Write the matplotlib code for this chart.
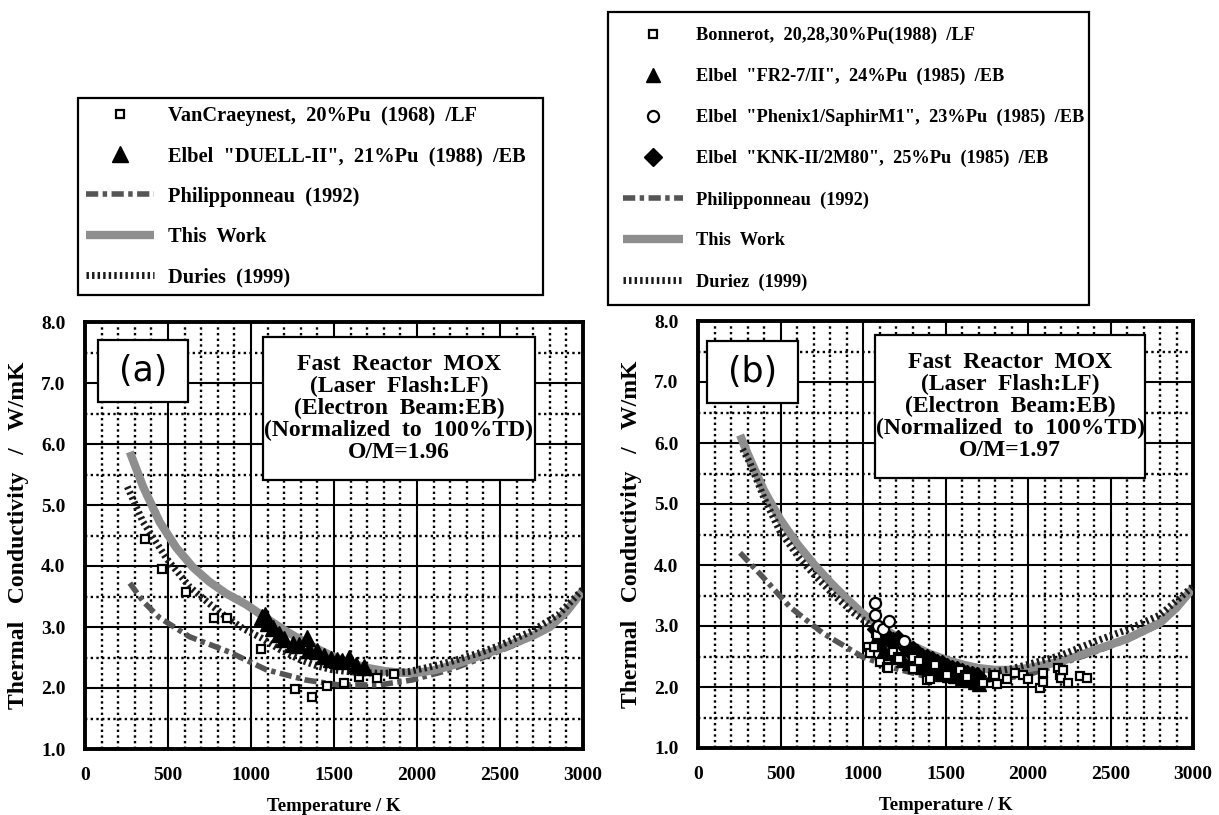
import matplotlib
matplotlib.use('Agg')
import matplotlib.pyplot as plt
from matplotlib.patches import Rectangle
from matplotlib.ticker import MultipleLocator

plt.rcParams['font.family'] = ['Liberation Serif', 'DejaVu Serif']
plt.rcParams['font.weight'] = 'bold'
plt.rcParams['axes.labelweight'] = 'bold'

# ---------------- panel (a) data, O/M = 1.96 ----------------
a_work_T = [270, 350, 450, 550, 650, 750, 850, 970, 1100, 1200, 1300, 1400, 1500, 1600,
            1700, 1800, 1900, 2000, 2100, 2200, 2300, 2400, 2500, 2600, 2700, 2800, 2900, 3000]
a_work_k = [5.87, 5.3, 4.72, 4.3, 3.98, 3.74, 3.55, 3.37, 3.13, 2.95, 2.79, 2.64, 2.51, 2.41,
            2.33, 2.28, 2.25, 2.25, 2.29, 2.36, 2.45, 2.55, 2.64, 2.75, 2.86, 3.0, 3.25, 3.6]
a_dur_T = [255, 350, 492, 630, 750, 852, 950, 1062, 1180, 1290, 1400, 1488, 1580, 1668, 1800,
           1950, 2070, 2200, 2370, 2500, 2690, 2850, 3000]
a_dur_k = [5.3, 4.72, 4.12, 3.66, 3.38, 3.16, 2.98, 2.82, 2.62, 2.47, 2.36, 2.30, 2.27, 2.25,
           2.24, 2.27, 2.34, 2.43, 2.57, 2.70, 2.93, 3.2, 3.62]
a_phil_T = [270, 350, 450, 630, 870, 1092, 1332, 1530, 1770, 1968, 2200, 2400, 2600, 2800, 3000]
a_phil_k = [3.72, 3.42, 3.15, 2.84, 2.59, 2.30, 2.13, 2.05, 2.05, 2.13, 2.3, 2.5, 2.72, 3.0, 3.6]
a_van_T = [360, 462, 606, 780, 858, 1062, 1266, 1368, 1458, 1560, 1650, 1758, 1860]
a_van_k = [4.44, 3.95, 3.57, 3.15, 3.15, 2.64, 1.98, 1.85, 2.03, 2.08, 2.18, 2.16, 2.23]
a_elb_T = [1065, 1085, 1100, 1130, 1170, 1200, 1250, 1290, 1338, 1350, 1400, 1440, 1480,
           1520, 1550, 1590, 1630, 1680]
a_elb_k = [3.16, 3.2, 3.06, 2.98, 2.88, 2.8, 2.72, 2.7, 2.82, 2.62, 2.6, 2.52, 2.48,
           2.46, 2.45, 2.5, 2.38, 2.35]

# ---------------- panel (b) data, O/M = 1.97 ----------------
b_work_T = [255, 300, 400, 500, 600, 700, 800, 900, 1000, 1100, 1200, 1300, 1400, 1500, 1600,
            1700, 1800, 1900, 2000, 2100, 2200, 2400, 2600, 2800, 2900, 3000]
b_work_k = [6.13, 5.83, 5.22, 4.74, 4.35, 4.02, 3.72, 3.45, 3.2, 3.0, 2.83, 2.68, 2.55, 2.45,
            2.37, 2.31, 2.28, 2.28, 2.31, 2.36, 2.42, 2.6, 2.79, 3.05, 3.3, 3.62]
b_dur_T = [270, 315, 400, 497, 618, 700, 818, 940, 1000, 1200, 1400, 1600, 1700, 1800, 1900,
           2000, 2200, 2400, 2600, 2800, 3000]
b_dur_k = [5.9, 5.67, 5.1, 4.55, 4.1, 3.85, 3.52, 3.22, 3.1, 2.72, 2.47, 2.3, 2.26, 2.25,
           2.3, 2.37, 2.52, 2.74, 2.94, 3.18, 3.65]
b_phil_T = [255, 394, 558, 758, 1000, 1200, 1400, 1600, 1800, 2000, 2200, 2400, 2600, 2800, 3000]
b_phil_k = [4.2, 3.8, 3.31, 2.88, 2.49, 2.3, 2.16, 2.1, 2.12, 2.2, 2.38, 2.57, 2.77, 3.03, 3.6]
b_bon_T = [1030, 1042, 1067, 1079, 1085, 1103, 1145, 1152, 1182, 1210, 1218, 1236, 1303, 1303,
           1340, 1388, 1406, 1436, 1509, 1588, 1618, 1630, 1727, 1788, 1800, 1815, 1872, 1921,
           1970, 2000, 2073, 2091, 2091, 2182, 2194, 2200, 2212, 2242, 2315, 2357]
b_bon_k = [2.66, 2.55, 2.66, 2.89, 2.85, 2.41, 2.33, 2.31, 2.57, 2.5, 2.46, 2.72, 2.47, 2.30,
           2.43, 2.11, 2.13, 2.36, 2.2, 2.28, 2.2, 2.16, 2.07, 2.16, 2.2, 2.05, 2.13, 2.23,
           2.2, 2.13, 1.98, 2.23, 2.08, 2.31, 2.2, 2.15, 2.28, 2.07, 2.18, 2.15]
b_fr2_T = [1070, 1100, 1130, 1170, 1200, 1240, 1280, 1320, 1360, 1400, 1440, 1480, 1520, 1560,
           1600, 1640, 1680, 1700]
b_fr2_k = [2.75, 2.7, 2.6, 2.55, 2.5, 2.45, 2.4, 2.35, 2.32, 2.28, 2.25, 2.22, 2.2, 2.18,
           2.15, 2.12, 2.08, 2.05]
b_phe_T = [1070, 1075, 1090, 1120, 1160, 1250]
b_phe_k = [3.37, 3.18, 3.0, 2.95, 3.08, 2.75]
b_knk_T = [1080, 1110, 1150, 1180, 1210, 1240, 1270, 1300, 1330, 1360, 1390, 1420, 1450, 1480,
           1510, 1540, 1570, 1600, 1630, 1660, 1690]
b_knk_k = [2.95, 2.85, 2.8, 2.75, 2.78, 2.7, 2.62, 2.6, 2.55, 2.5, 2.47, 2.45, 2.4, 2.37,
           2.33, 2.3, 2.28, 2.25, 2.22, 2.2, 2.18]

xticks = [0, 500, 1000, 1500, 2000, 2500, 3000]
yticks = [1.0, 2.0, 3.0, 4.0, 5.0, 6.0, 7.0, 8.0]

work_style = dict(color='#8e8e8e', lw=6, solid_capstyle='butt', zorder=4)
dur_style = dict(color='#1a1a1a', lw=5, linestyle=(0, (0.35, 0.45)), zorder=5)
phil_style = dict(color='#555555', lw=4, linestyle=(0, (2.2, 0.8, 0.8, 0.8)), zorder=3)

W, H = 1219, 815
fig = plt.figure(figsize=(W / 100, H / 100), dpi=100)
axA = fig.add_axes([85 / W, 1 - 749 / H, 498 / W, 427 / H])
axB = fig.add_axes([698 / W, 1 - 748 / H, 495 / W, 427 / H])


def setup(ax, tag, om, tagbox, textbox):
    ax.set_xlim(0, 3000)
    ax.set_ylim(1.0, 8.0)
    ax.set_xticks(xticks)
    ax.set_xticklabels([str(t) for t in xticks])
    ax.set_yticks(yticks)
    ax.set_yticklabels(['%.1f' % t for t in yticks])
    ax.xaxis.set_minor_locator(MultipleLocator(100))
    ax.yaxis.set_minor_locator(MultipleLocator(0.5))
    ax.grid(which='major', color='black', lw=1.5, ls='-')
    ax.grid(which='minor', color='black', lw=1.7, ls=(0, (1, 1.4)))
    ax.tick_params(which='both', length=0)
    ax.tick_params(axis='x', pad=13, labelsize=14)
    ax.tick_params(axis='y', pad=14, labelsize=14)
    for s in ax.spines.values():
        s.set_linewidth(2.8)
    ax.set_xlabel('Temperature / K', fontsize=13.5, labelpad=10)
    ax.set_ylabel('Thermal   Conductivity   /   W/mK', fontsize=17, labelpad=9)

    x0, y0, x1, y1 = tagbox
    ax.add_patch(Rectangle((x0, y0), x1 - x0, y1 - y0, transform=ax.transAxes,
                           facecolor='white', edgecolor='black', lw=1.6, zorder=6))
    ax.text((x0 + x1) / 2, (y0 + y1) / 2, tag, transform=ax.transAxes, ha='center',
            va='center', fontsize=25, family='DejaVu Sans', fontweight='normal', zorder=7)
    x0, y0, x1, y1 = textbox
    ax.add_patch(Rectangle((x0, y0), x1 - x0, y1 - y0, transform=ax.transAxes,
                           facecolor='white', edgecolor='black', lw=1.6, zorder=6))
    ax.text((x0 + x1) / 2, (y0 + y1) / 2,
            'Fast  Reactor  MOX\n(Laser  Flash:LF)\n(Electron  Beam:EB)\n'
            '(Normalized  to  100%TD)\nO/M=' + om,
            transform=ax.transAxes, ha='center', va='center', fontsize=17,
            linespacing=1.05, zorder=7)


setup(axA, '(a)', '1.96', (0.026, 0.813, 0.207, 0.958), (0.357, 0.630, 0.904, 0.965))
setup(axB, '(b)', '1.97', (0.018, 0.808, 0.202, 0.953), (0.358, 0.632, 0.903, 0.967))

# panel (a)
pA, = axA.plot(a_phil_T, a_phil_k, **phil_style)
wA, = axA.plot(a_work_T, a_work_k, **work_style)
dA, = axA.plot(a_dur_T, a_dur_k, **dur_style)
vA, = axA.plot(a_van_T, a_van_k, 's', ms=6, mfc='white', mec='black', mew=1.6, zorder=8)
eA, = axA.plot(a_elb_T, a_elb_k, '^', ms=11, color='black', zorder=8)

# panel (b)
pB, = axB.plot(b_phil_T, b_phil_k, **phil_style)
wB, = axB.plot(b_work_T, b_work_k, **work_style)
dB, = axB.plot(b_dur_T, b_dur_k, **dur_style)
kB, = axB.plot(b_knk_T, b_knk_k, 'D', ms=9, color='black', zorder=8)
fB, = axB.plot(b_fr2_T, b_fr2_k, '^', ms=10, color='black', zorder=8)
bB, = axB.plot(b_bon_T, b_bon_k, 's', ms=6, mfc='white', mec='black', mew=1.6, zorder=9)
cB, = axB.plot(b_phe_T, b_phe_k, 'o', ms=8, mfc='white', mec='black', mew=1.6, zorder=9)

leg_kw = dict(loc='upper left', mode='expand', borderaxespad=0, numpoints=1,
              fancybox=False, edgecolor='black', framealpha=1,
              handlelength=3.3, handletextpad=0.7)
legA = fig.legend([vA, eA, pA, wA, dA],
                  ['VanCraeynest,  20%Pu  (1968)  /LF',
                   'Elbel  "DUELL-II",  21%Pu  (1988)  /EB',
                   'Philipponneau  (1992)', 'This  Work', 'Duries  (1999)'],
                  bbox_to_anchor=(78 / W, 1 - 98 / H, 465 / W, 0), fontsize=14.7,
                  labelspacing=0.99, borderpad=0.4, **leg_kw)
legA.get_frame().set_linewidth(1.6)
legB = fig.legend([bB, fB, cB, kB, pB, wB, dB],
                  ['Bonnerot,  20,28,30%Pu(1988)  /LF',
                   'Elbel  "FR2-7/II",  24%Pu  (1985)  /EB',
                   'Elbel  "Phenix1/SaphirM1",  23%Pu  (1985)  /EB',
                   'Elbel  "KNK-II/2M80",  25%Pu  (1985)  /EB',
                   'Philipponneau  (1992)', 'This  Work', 'Duriez  (1999)'],
                  bbox_to_anchor=(608 / W, 1 - 12 / H, 481 / W, 0), fontsize=13.2,
                  labelspacing=1.3, borderpad=0.8, **leg_kw)
legB.get_frame().set_linewidth(1.6)

fig.savefig('out.png', dpi=100, facecolor='white')
